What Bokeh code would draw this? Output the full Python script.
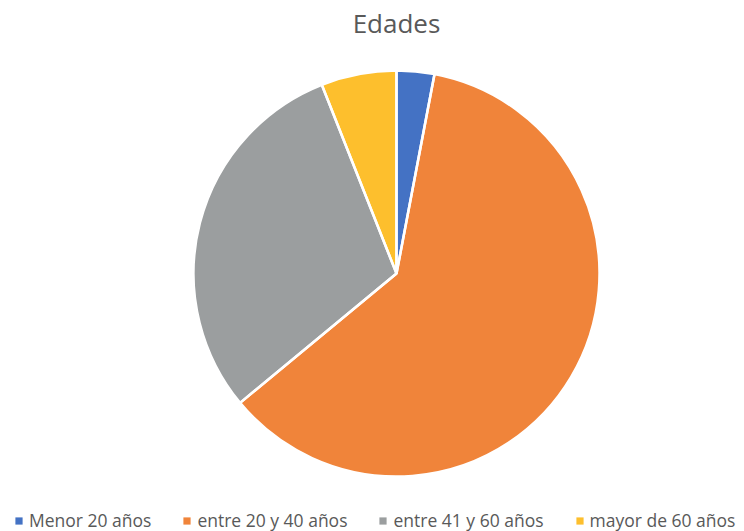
import math
from bokeh.plotting import figure
from bokeh.models import ColumnDataSource, Range1d, Legend, LegendItem, Label
from bokeh.embed import file_html
from bokeh.resources import INLINE

# Data
title_text = "Edades"
categories = ["Menor 20 años", "entre 20 y 40 años", "entre 41 y 60 años", "mayor de 60 años"]
values = [3, 61, 30, 6]
colors = ["#4472C4", "#F0843A", "#9B9E9F", "#FDBF2D"]

W, H = 744, 531
cx, cy, radius = 396, 258, 203

total = float(sum(values))
starts, ends = [], []
cum = 0.0
for v in values:
    a0 = math.pi / 2 - 2 * math.pi * cum / total
    cum += v
    a1 = math.pi / 2 - 2 * math.pi * cum / total
    starts.append(a0)
    ends.append(a1)

src = ColumnDataSource(dict(
    x=[cx] * len(values), y=[cy] * len(values),
    start=starts, end=ends, color=colors, label=categories,
))

p = figure(width=W, height=H, output_backend="svg", toolbar_location=None,
           x_range=Range1d(0, W), y_range=Range1d(0, H), min_border=0)
p.axis.visible = False
p.xgrid.visible = False
p.ygrid.visible = False
p.outline_line_color = None
p.background_fill_color = "white"
p.border_fill_color = "white"

r_fill = p.wedge(x="x", y="y", radius=radius, start_angle="start", end_angle="end",
                 direction="clock", fill_color="color", line_color=None, source=src)
p.wedge(x="x", y="y", radius=radius, start_angle="start", end_angle="end",
        direction="clock", fill_alpha=0, line_color="white", line_width=2.5, source=src)

title = Label(x=cx, y=509, text=title_text, text_align="center", text_baseline="middle",
              text_font="Open Sans", text_font_size="26px", text_color="#595959")
p.add_layout(title)

items = [LegendItem(label=c, renderers=[r_fill], index=i) for i, c in enumerate(categories)]
legend = Legend(items=items, orientation="horizontal", location=(14, -1),
                border_line_color=None, background_fill_alpha=0,
                padding=0, margin=0, glyph_width=9, glyph_height=9,
                label_standoff=6, spacing=31,
                label_text_font="Open Sans", label_text_font_size="17.5px",
                label_text_color="#595959")
p.add_layout(legend, "center")

open("out.html", "w").write(file_html(p, INLINE))
